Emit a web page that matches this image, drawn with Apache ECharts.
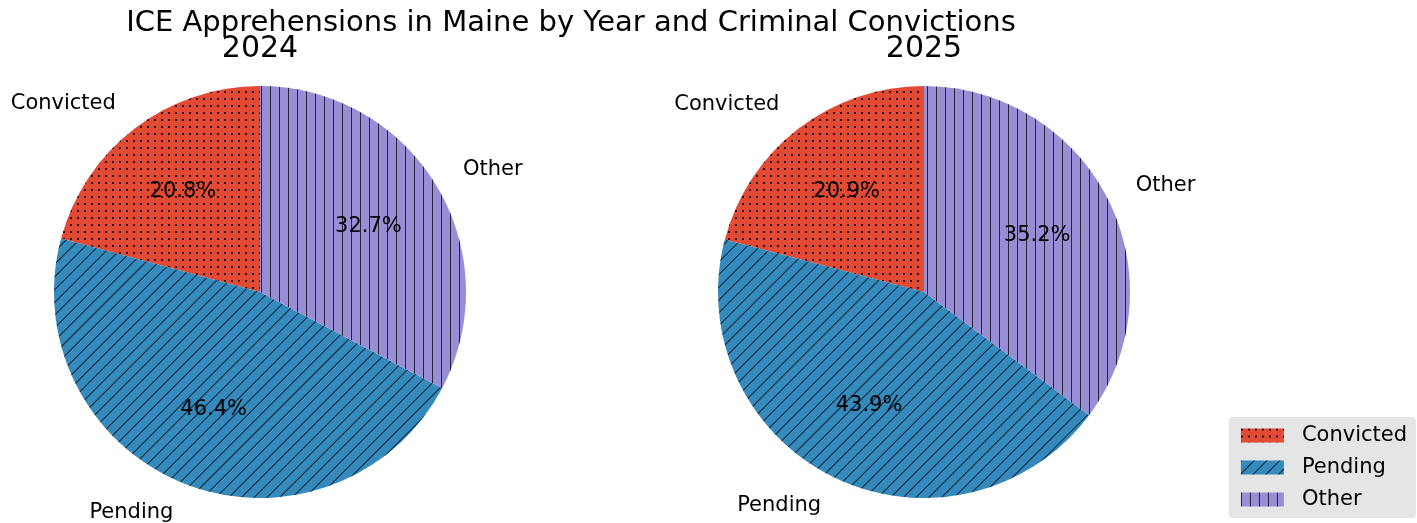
<!DOCTYPE html>
<html>
<head>
<meta charset="utf-8">
<script src="https://cdn.jsdelivr.net/npm/echarts@6/dist/echarts.min.js"></script>
<style>
  html, body { margin: 0; padding: 0; background: #fff; }
  #chart { width: 1417px; height: 523px; }
</style>
</head>
<body>
<div id="chart"></div>
<script>
// data (percent of apprehensions)
const categories = ['Convicted', 'Pending', 'Other'];
const years = ['2024', '2025'];
const values2024 = [20.8, 46.4, 32.7];
const values2025 = [20.9, 43.9, 35.2];

const colors = ['#E24A33', '#348ABD', '#988ED5'];
const font = 'DejaVu Sans';

// hatch patterns like matplotlib: '..', '//', '||'
const decals = [
  { symbol: 'rect', color: 'rgba(0,0,0,0.8)', dashArrayX: [1.1, 4.9], dashArrayY: [1.1, 4.9] },
  { symbol: 'rect', color: 'rgba(0,0,0,0.75)', dashArrayX: [1, 8], dashArrayY: [10, 0], rotation: Math.PI / 4 },
  { symbol: 'rect', color: 'rgba(0,0,0,0.75)', dashArrayX: [1, 7.5], dashArrayY: [10, 0] }
];

const R = 206;
const centers = [[260, 292], [924, 292]];
const allValues = [values2024, values2025];

function makeData(vals) {
  return categories.map((c, i) => ({
    name: c,
    value: vals[i],
    itemStyle: { color: colors[i], decal: decals[i] }
  }));
}

let series = [];
allValues.forEach((vals, k) => {
  // wedges with outside category labels
  series.push({
    type: 'pie',
    center: centers[k],
    radius: [0, R],
    startAngle: 90,
    clockwise: false,
    avoidLabelOverlap: false,
    silent: true,
    data: makeData(vals),
    label: {
      show: true,
      position: 'outside',
      formatter: '{b}',
      fontFamily: font,
      fontSize: 21,
      color: '#000',
      distanceToLabelLine: 0
    },
    labelLine: { show: false, length: R * 0.15, length2: 0 }
  });
});
allValues.forEach((vals, k) => {
  // transparent ring, only to put the percentages at 0.6 r
  series.push({
    type: 'pie',
    center: centers[k],
    radius: [R * 0.2, R],
    startAngle: 90,
    clockwise: false,
    silent: true,
    data: categories.map((c, i) => ({ name: c, value: vals[i], itemStyle: { color: 'rgba(0,0,0,0)' } })),
    label: {
      show: true,
      position: 'inside',
      formatter: p => p.value.toFixed(1) + '%',
      fontFamily: font,
      fontSize: 21,
      color: '#000'
    },
    labelLine: { show: false }
  });
});

const chart = echarts.init(document.getElementById('chart'));
chart.setOption({
  animation: false,
  title: [
    { text: 'ICE Apprehensions in Maine by Year and Criminal Convictions', left: 571, top: 9, textAlign: 'center', padding: 0,
      textStyle: { fontFamily: font, fontSize: 29, fontWeight: 'normal', color: '#000' } },
    { text: years[0], left: centers[0][0], top: 34, textAlign: 'center', padding: 0,
      textStyle: { fontFamily: font, fontSize: 30, fontWeight: 'normal', color: '#000' } },
    { text: years[1], left: centers[1][0], top: 34, textAlign: 'center', padding: 0,
      textStyle: { fontFamily: font, fontSize: 30, fontWeight: 'normal', color: '#000' } }
  ],
  legend: {
    orient: 'vertical',
    right: 1,
    bottom: 5,
    data: categories,
    icon: 'rect',
    itemWidth: 43,
    itemHeight: 14,
    itemGap: 11,
    padding: [8, 9, 8, 12],
    backgroundColor: '#E5E5E5',
    borderRadius: 4,
    textStyle: { fontFamily: font, fontSize: 21, color: '#000', padding: [0, 0, 0, 13] }
  },
  series: series
});
</script>
</body>
</html>
